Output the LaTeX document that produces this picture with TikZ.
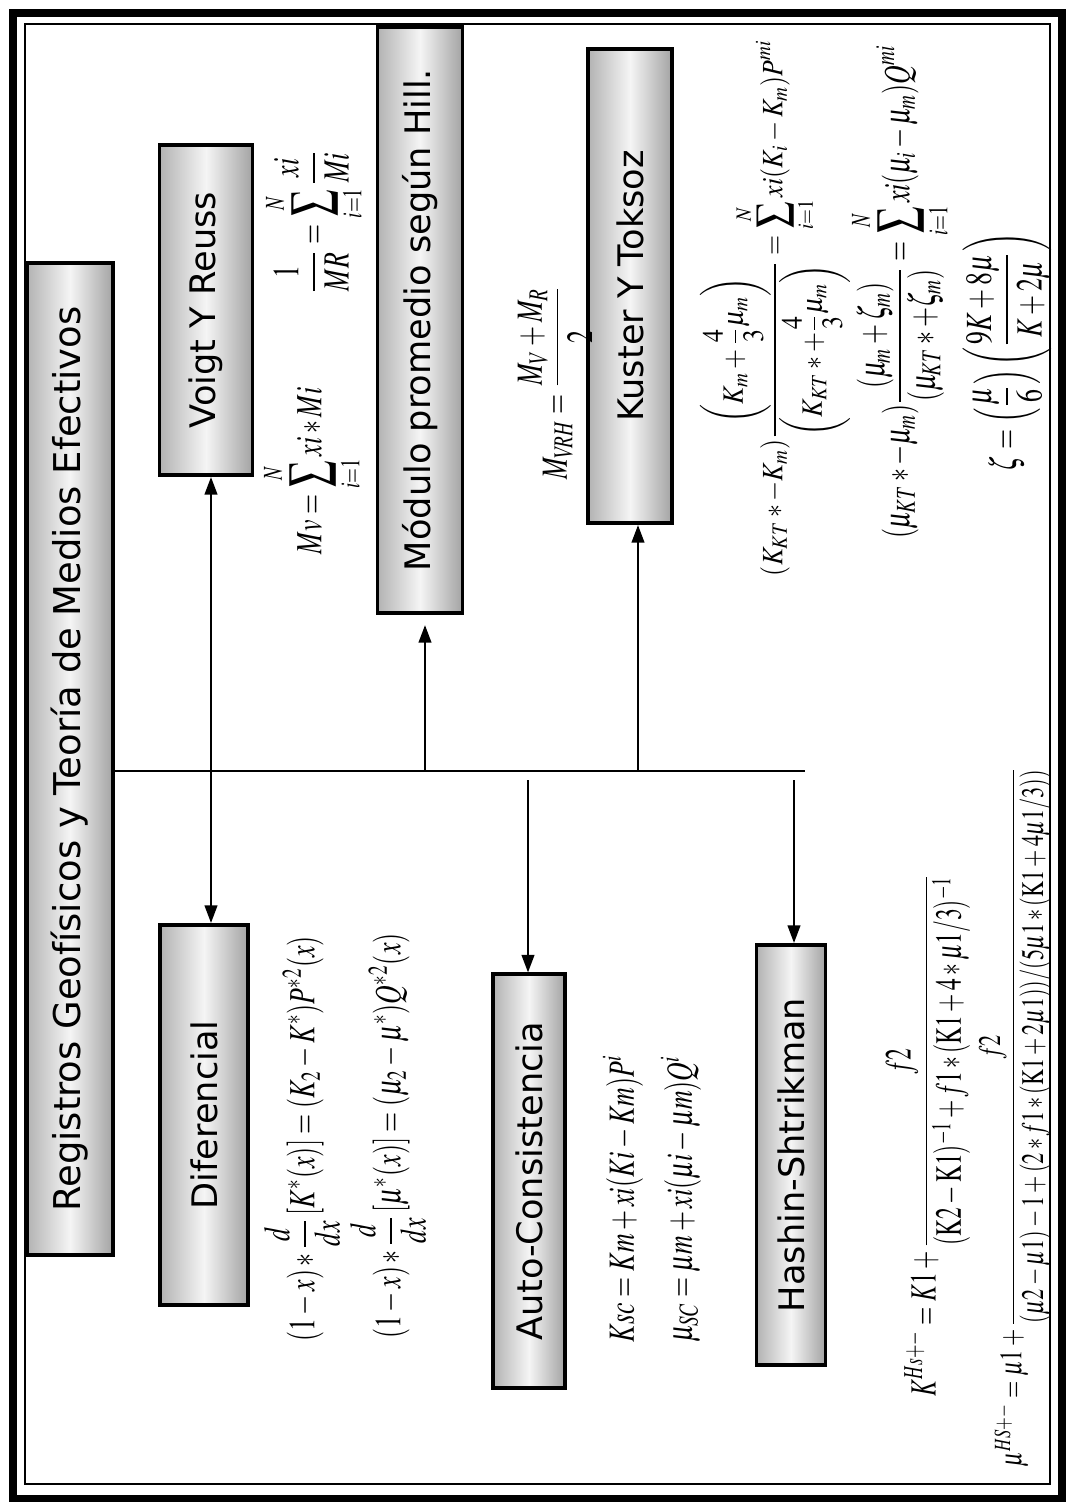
\documentclass[tikz,border=0pt]{standalone}
\usepackage{amsmath}
\usepackage{mathptmx}
\usepackage[no-math]{fontspec}
\setmainfont{DejaVu Sans}
\usetikzlibrary{arrows.meta, positioning, calc}

\begin{document}
\begin{tikzpicture}[x=0.01cm, y=-0.01cm,
  tbox/.style={draw, line width=1.1pt, left color=gray!60, right color=gray!72, middle color=gray!8, inner sep=0pt, font=\fontsize{10}{12}\selectfont},
  eq/.style={rotate=90, xscale=0.7, inner sep=0pt, font=\fontsize{10.5}{12}\selectfont},
  arr/.style={-{Triangle[length=5pt, width=3.6pt]}, line width=0.6pt}
]
  \useasboundingbox (0,0) rectangle (1075,1511);
  % frame
  \draw[line width=2pt] (13,13) rectangle (1062,1498);
  \draw[line width=0.6pt] (25,24) rectangle (1050,1484);

  % boxes
  \node[tbox, minimum height=9.92cm, minimum width=0.86cm, font=\fontsize{10.5}{12}\selectfont] (title) at (70,759) {\rotatebox{90}{Registros Geofísicos y Teoría de Medios Efectivos}};
  \node[tbox, minimum height=3.3cm, minimum width=0.93cm] (voigt) at (206,310) {\rotatebox{90}{Voigt Y Reuss}};
  \node[tbox, minimum height=3.8cm, minimum width=0.88cm] (dif) at (204,1115) {\rotatebox{90}{Diferencial}};
  \node[tbox, minimum height=5.86cm, minimum width=0.85cm] (hill) at (420,320) {\rotatebox{90}{Módulo promedio según Hill.}};
  \node[tbox, minimum height=4.13cm, minimum width=0.72cm] (auto) at (529,1181) {\rotatebox{90}{Auto-Consistencia}};
  \node[tbox, minimum height=4.74cm, minimum width=0.84cm] (kuster) at (630,286) {\rotatebox{90}{Kuster Y Toksoz}};
  \node[tbox, minimum height=4.2cm, minimum width=0.69cm] (hashin) at (791,1155) {\rotatebox{90}{Hashin-Shtrikman}};

  % formulas
  \node[eq] (mv) at (312,471) {$Mv=\displaystyle\sum_{i=1}^{N}xi*Mi$};
  \node[eq] (mr) at (314,222) {$\dfrac{1}{MR}=\displaystyle\sum_{i=1}^{N}\dfrac{xi}{Mi}$};
  \node[eq] (vrh) at (555,383) {$M_{V\!RH}=\dfrac{M_V+M_R}{2}$};
  \node[eq, yscale=0.8] (kt1) at (775,308) {$(K_{KT}*-K_m)\dfrac{\left(K_m+\dfrac{4}{3}\mu_m\right)}{\left(K_{KT}*+\dfrac{4}{3}\mu_m\right)}=\displaystyle\sum_{i=1}^{N}xi(K_i-K_m)P^{mi}$};
  \node[eq] (kt2) at (900,292) {$(\mu_{KT}*-\mu_m)\dfrac{(\mu_m+\zeta_m)}{(\mu_{KT}*+\zeta_m)}=\displaystyle\sum_{i=1}^{N}xi(\mu_i-\mu_m)Q^{mi}$};
  \node[eq] (zeta) at (1007,352) {$\zeta=\left(\dfrac{\mu}{6}\right)\left(\dfrac{9K+8\mu}{K+2\mu}\right)$};
  \node[eq] (dif1) at (302,1139) {$(1-x)*\dfrac{d}{dx}\left[K^{*}(x)\right]=(K_2-K^{*})P^{*2}(x)$};
  \node[eq] (dif2) at (388,1136) {$(1-x)*\dfrac{d}{dx}\left[\mu^{*}(x)\right]=(\mu_2-\mu^{*})Q^{*2}(x)$};
  \node[eq] (sc1) at (623,1199) {$Ksc=Km+xi(Ki-Km)P^{i}$};
  \node[eq] (sc2) at (681,1199) {$\mu_{SC}=\mu m+xi(\mu i-\mu m)Q^{i}$};
  \node[eq, xscale=0.91] (hs1) at (928,1135) {$K^{Hs+-}=K1+\dfrac{f2}{(\mathrm{K}2-\mathrm{K}1)^{-1}+f1*(\mathrm{K}1+4*\mu1/3)^{-1}}$};
  \node[eq, xscale=0.86, yscale=0.85] (hs2) at (1015,1117) {$\mu^{HS+-}=\mu1+\dfrac{f2}{(\mu2-\mu1)-1+(2*f1*(\mathrm{K}1+2\mu1))/(5\mu1*(\mathrm{K}1+4\mu1/3))}$};

  % connectors
  \coordinate (busend) at (805,771);
  \coordinate (jvr) at (211,771);
  \coordinate (jhill) at (425,771);
  \coordinate (jsc) at (528,771);
  \coordinate (jkt) at (638,771);
  \coordinate (jhs) at (794,771);
  \draw[line width=0.7pt] (title.east |- busend) -- (busend);
  \draw[arr] (jvr) -- (jvr |- voigt.south);
  \draw[arr] (jvr) -- (jvr |- dif.north);
  \draw[arr, shorten >=0.1cm] (jhill) -- (jhill |- hill.south);
  \draw[arr] (jkt) -- (jkt |- kuster.south);
  \draw[arr, shorten <=0.09cm] (jsc) -- (jsc |- auto.north);
  \draw[arr, shorten <=0.09cm] (jhs) -- (jhs |- hashin.north);
\end{tikzpicture}
\end{document}
